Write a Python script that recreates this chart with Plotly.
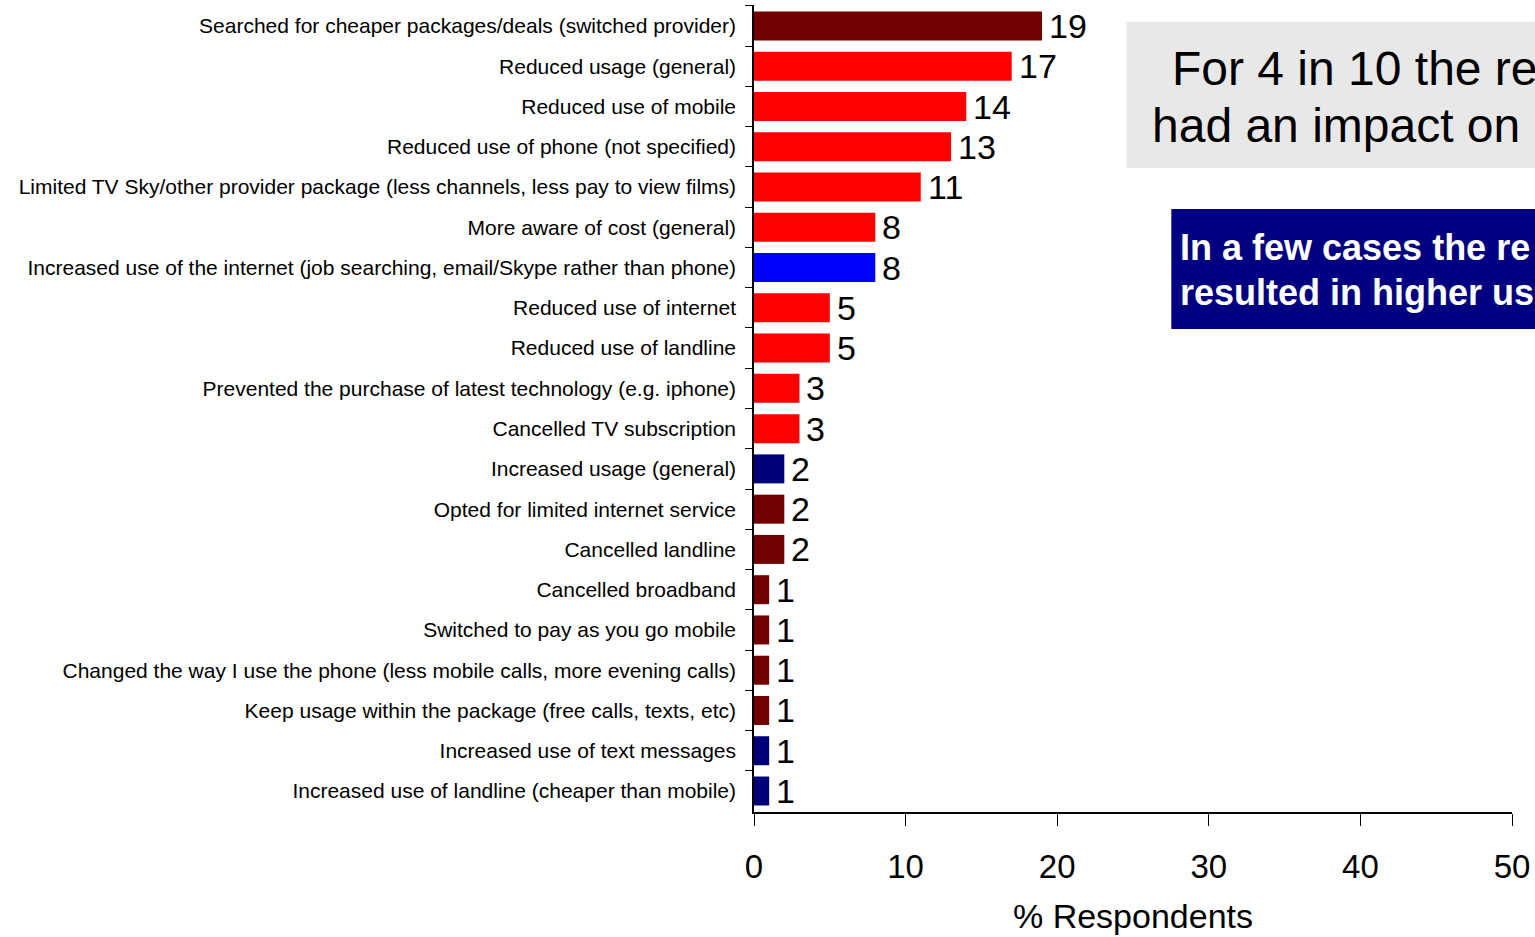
import plotly.graph_objects as go

# Reported changes in telecoms behaviour
categories = [
    "Searched for cheaper packages/deals (switched provider)",
    "Reduced usage (general)",
    "Reduced use of mobile",
    "Reduced use of phone (not specified)",
    "Limited TV Sky/other provider package (less channels, less pay to view films)",
    "More aware of cost (general)",
    "Increased use of the internet (job searching, email/Skype rather than phone)",
    "Reduced use of internet",
    "Reduced use of landline",
    "Prevented the purchase of latest technology (e.g. iphone)",
    "Cancelled TV subscription",
    "Increased usage (general)",
    "Opted for limited internet service",
    "Cancelled landline",
    "Cancelled broadband",
    "Switched to pay as you go mobile",
    "Changed the way I use the phone (less mobile calls, more evening calls)",
    "Keep usage within the package (free calls, texts, etc)",
    "Increased use of text messages",
    "Increased use of landline (cheaper than mobile)",
]
values = [19, 17, 14, 13, 11, 8, 8, 5, 5, 3, 3, 2, 2, 2, 1, 1, 1, 1, 1, 1]
groups = ["switch", "reduce", "reduce", "reduce", "reduce", "reduce", "increase",
          "reduce", "reduce", "reduce", "reduce", "increase_gen", "switch", "switch",
          "switch", "switch", "switch", "switch", "increase_gen", "increase_gen"]
x_ticks = [0, 10, 20, 30, 40, 50]

palette = {
    "switch": "#730000",
    "reduce": "#FF0000",
    "increase": "#0000FF",
    "increase_gen": "#000078",
}
bar_colors = [palette[g] for g in groups]

FONT = "Arial, Liberation Sans, sans-serif"

fig = go.Figure(
    go.Bar(
        y=categories,
        x=values,
        orientation="h",
        marker=dict(color=bar_colors, line=dict(width=0)),
        hoverinfo="skip",
    )
)

# Value labels just past the end of each bar
for cat, v in zip(categories, values):
    fig.add_annotation(
        x=v, y=cat, xref="x", yref="y",
        text=str(v), showarrow=False,
        xanchor="left", yanchor="middle", xshift=5, yshift=0,
        font=dict(family=FONT, size=34, color="#000000"),
    )

fig.update_layout(
    width=1535,
    height=937,
    margin=dict(l=754, r=20, t=5, b=125),
    paper_bgcolor="white",
    plot_bgcolor="white",
    bargap=0.28,
    showlegend=False,
    font=dict(family=FONT, color="#000000"),
)

fig.update_yaxes(
    type="category",
    categoryorder="array",
    categoryarray=categories,
    autorange="reversed",
    showline=True,
    linecolor="#000000",
    linewidth=1.5,
    ticks="outside",
    tickson="boundaries",
    ticklen=7,
    tickcolor="#000000",
    tickfont=dict(family=FONT, size=21, color="#000000"),
    ticklabelstandoff=12,
    showgrid=False,
    zeroline=False,
)

fig.update_xaxes(
    range=[0, 50],
    tickvals=x_ticks,
    ticktext=[str(t) for t in x_ticks],
    showline=True,
    linecolor="#000000",
    linewidth=1.5,
    ticks="outside",
    ticklen=12,
    tickcolor="#000000",
    tickfont=dict(family=FONT, size=33, color="#000000"),
    ticklabelstandoff=13,
    showgrid=False,
    zeroline=False,
    title=dict(text="% Respondents", font=dict(family=FONT, size=34, color="#000000"), standoff=20),
)

# Callout boxes on the right
fig.add_shape(type="rect", xref="paper", yref="paper",
              x0=(1128 - 754) / 761, x1=1.05, y0=1 - (168 - 5) / 807, y1=1 - (22 - 5) / 807,
              fillcolor="#E8E8E8", line=dict(width=0), layer="below")
fig.add_shape(type="rect", xref="paper", yref="paper",
              x0=(1173 - 754) / 761, x1=1.05, y0=1 - (329 - 5) / 807, y1=1 - (209 - 5) / 807,
              fillcolor="#000080", line=dict(width=0), layer="below")

callouts = [
    ("For 4 in 10 the re", 1172, 69, 48, "#000000", False),
    ("had an impact on", 1152, 125, 48, "#000000", False),
    ("In a few cases the re", 1180, 248, 36, "#FFFFFF", True),
    ("resulted in higher us", 1180, 292, 36, "#FFFFFF", True),
]
for txt, px, py, size, color, bold in callouts:
    fig.add_annotation(
        xref="paper", yref="paper",
        x=(px - 754) / 761, y=1 - (py - 5) / 807,
        xanchor="left", yanchor="middle",
        text=f"<b>{txt}</b>" if bold else txt,
        showarrow=False,
        font=dict(family=FONT, size=size, color=color),
    )

fig.write_html("out.html")
